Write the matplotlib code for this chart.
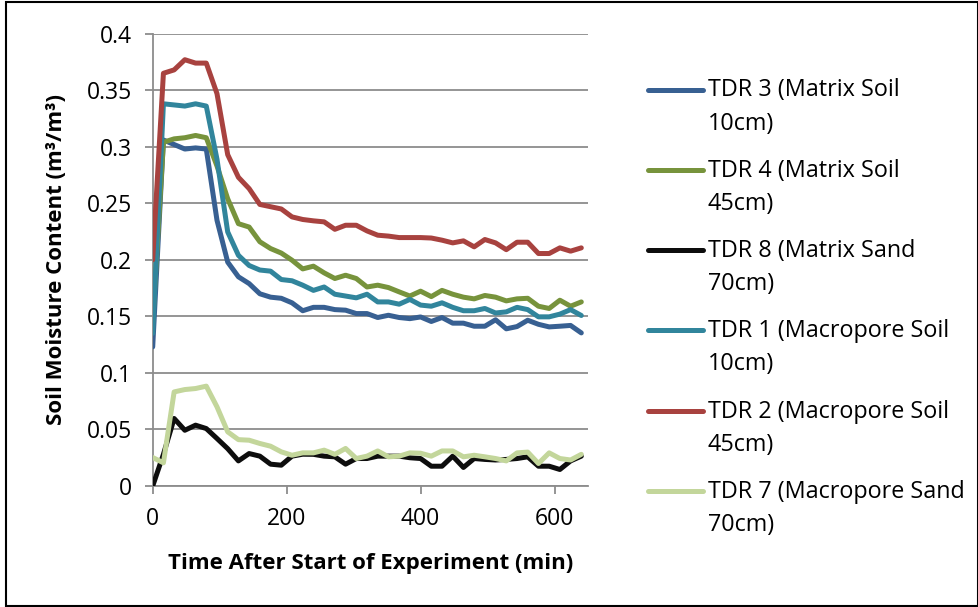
"""Soil moisture response of the TDR probes after the start of the experiment."""
import matplotlib

matplotlib.use("Agg")
import matplotlib.pyplot as plt
from matplotlib.lines import Line2D
from matplotlib.patches import Rectangle
from matplotlib.ticker import FuncFormatter, MultipleLocator

plt.rcParams["font.family"] = ["Open Sans", "DejaVu Sans"]

# readings every 16 min, 0 .. 640 min
time_min = [16 * i for i in range(41)]

tdr3 = [0.123, 0.306, 0.302, 0.298, 0.299, 0.298, 0.235, 0.198, 0.185, 0.179,
        0.170, 0.167, 0.166, 0.162, 0.155, 0.158, 0.158, 0.156, 0.1555, 0.1525,
        0.1525, 0.149, 0.151, 0.149, 0.148, 0.1495, 0.1455, 0.149, 0.144, 0.144,
        0.1413, 0.1413, 0.147, 0.139, 0.141, 0.1466, 0.143, 0.1407, 0.1413, 0.142,
        0.1354]
tdr4 = [0.145, 0.304, 0.307, 0.308, 0.310, 0.308, 0.283, 0.254, 0.232, 0.229,
        0.216, 0.210, 0.206, 0.1997, 0.192, 0.1944, 0.1885, 0.1835, 0.1864, 0.1835,
        0.176, 0.1776, 0.1755, 0.1717, 0.168, 0.1723, 0.1675, 0.173, 0.1696, 0.167,
        0.1655, 0.1685, 0.167, 0.1637, 0.1655, 0.166, 0.159, 0.157, 0.1643, 0.159,
        0.1628]
tdr8 = [0.0, 0.028, 0.0597, 0.0493, 0.0538, 0.0508, 0.042, 0.033, 0.0222, 0.0287,
        0.0264, 0.0193, 0.0184, 0.0264, 0.0281, 0.028, 0.0264, 0.0258, 0.0193, 0.0243,
        0.0243, 0.0264, 0.0264, 0.0264, 0.025, 0.0243, 0.0175, 0.0175, 0.0264, 0.0164,
        0.0243, 0.0235, 0.023, 0.0235, 0.0243, 0.0258, 0.0175, 0.0175, 0.0146, 0.0222,
        0.0264]
tdr1 = [0.135, 0.338, 0.337, 0.336, 0.338, 0.336, 0.289, 0.2247, 0.204, 0.195,
        0.191, 0.190, 0.1826, 0.1815, 0.1776, 0.173, 0.176, 0.1696, 0.168, 0.1664,
        0.1696, 0.1628, 0.1628, 0.1608, 0.165, 0.160, 0.159, 0.162, 0.158, 0.155,
        0.155, 0.157, 0.153, 0.154, 0.158, 0.156, 0.1496, 0.1496, 0.152, 0.156,
        0.1508]
tdr2 = [0.200, 0.365, 0.368, 0.377, 0.374, 0.374, 0.347, 0.293, 0.273, 0.263,
        0.249, 0.247, 0.245, 0.238, 0.2357, 0.2345, 0.2336, 0.227, 0.2306, 0.2306,
        0.2256, 0.2218, 0.221, 0.2197, 0.2197, 0.2197, 0.2193, 0.2174, 0.215, 0.2168,
        0.2115, 0.218, 0.215, 0.209, 0.2156, 0.2156, 0.2056, 0.2056, 0.2106, 0.2077,
        0.2106]
tdr7 = [0.0252, 0.0205, 0.0832, 0.0853, 0.0862, 0.0883, 0.070, 0.0479, 0.041, 0.0405,
        0.0376, 0.0352, 0.0302, 0.0272, 0.0293, 0.0293, 0.0317, 0.028, 0.0332, 0.0243,
        0.0264, 0.031, 0.0258, 0.0264, 0.0293, 0.029, 0.0264, 0.031, 0.031, 0.0258,
        0.0272, 0.0258, 0.0243, 0.0222, 0.0293, 0.030, 0.0199, 0.0293, 0.0243, 0.023,
        0.028]

series = [tdr3, tdr4, tdr8, tdr1, tdr2, tdr7]
labels = ["TDR 3 (Matrix Soil\n10cm)", "TDR 4 (Matrix Soil\n45cm)",
          "TDR 8 (Matrix Sand\n70cm)", "TDR 1 (Macropore Soil\n10cm)",
          "TDR 2 (Macropore Soil\n45cm)", "TDR 7 (Macropore Sand\n70cm)"]
colors = ["#386092", "#77933C", "#0D0D0D", "#31859C", "#A8423F", "#C3D69B"]

W, H = 979, 607
fig = plt.figure(figsize=(W / 100, H / 100), dpi=100)
ax = fig.add_axes([152.7 / W, 1 - 486 / H, 435.3 / W, 452.3 / H])

for y, c in zip(series, colors):
    ax.plot(time_min, y, color=c, lw=3.6, solid_joinstyle="round",
            solid_capstyle="round", zorder=3)

ax.set_xlim(0, 650)
ax.set_ylim(0, 0.4)
ax.xaxis.set_major_locator(MultipleLocator(200))
ax.yaxis.set_major_locator(MultipleLocator(0.05))
ax.yaxis.set_major_formatter(FuncFormatter(lambda v, _: f"{v:g}"))
ax.grid(axis="y", color="#8C8C8C", lw=1.3, zorder=1)
ax.set_axisbelow(True)
for s in ("top", "right"):
    ax.spines[s].set_visible(False)
for s in ("left", "bottom"):
    ax.spines[s].set_color("#8C8C8C")
    ax.spines[s].set_linewidth(1.3)
ax.tick_params(colors="#8C8C8C", labelcolor="black", labelsize=16.5,
               length=6, width=1.3, pad=9)

ax.set_xlabel("Time After Start of Experiment (min)", fontsize=16,
              fontweight="bold", labelpad=16)
ax.set_ylabel("Soil Moisture Content (m³/m³)", fontsize=16,
              fontweight="bold", labelpad=14)

# legend drawn by hand so the key lines sit on the first text line
for k, (lab, c) in enumerate(zip(labels, colors)):
    yc = 89.5 + k * 80.3
    fig.add_artist(Line2D([648 / W, 703 / W], [1 - yc / H] * 2, color=c,
                          lw=3.6, solid_capstyle="round"))
    fig.text(708 / W, 1 - (yc - 11) / H, lab, fontsize=16.8, va="top",
             ha="left", linespacing=1.5)

fig.add_artist(Rectangle((6 / W, 1 / H), 972 / W, 604 / H, fill=False,
                         ec="black", lw=1.5, transform=fig.transFigure))

fig.savefig("out.png", dpi=100)
